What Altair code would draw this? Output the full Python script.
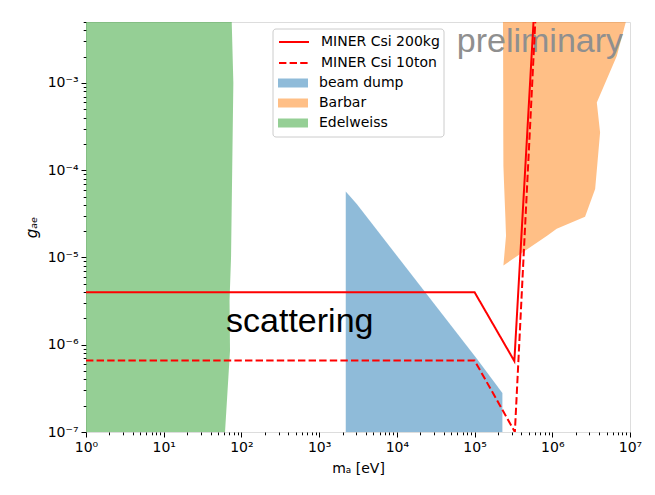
import altair as alt
import pandas as pd

# ---------------- data ----------------
LINE_SERIES = ["MINER Csi 200kg", "MINER Csi 10ton"]
LINE_COLOR = "#ff0000"
LINE_DASHES = [[1, 0], [7.4, 3.2]]
AREA_SERIES = ["beam dump", "Barbar", "Edelweiss"]
AREA_COLORS = ["#1f77b4", "#ff7f0e", "#2ca02c"]

solid_m = [1, 1e5, 3.25e5, 5.8e5]
solid_g = [4.0e-6, 4.0e-6, 6.5e-7, 6.0e-3]

dashed_m = [1, 1e5, 3.3e5, 6.1e5]
dashed_g = [6.6e-7, 6.6e-7, 1.0e-7, 6.0e-3]

beam_m = [2.2e3, 3.05e3, 1.07e5, 2.28e5]
beam_g = [5.7e-5, 4.1e-5, 6.9e-7, 2.8e-7]
beam_floor = 1e-7

edel_g = [1e-7, 8.6e-7, 3.2e-6, 1e-5, 1e-3, 5e-3]
edel_m = [61.5, 71.3, 70.3, 73.5, 78.7, 75]
edel_left = 1

barbar_g = [8.1e-6, 1.78e-5, 2.13e-5, 2.94e-5, 6.1e-5, 1.12e-4, 2.7e-4, 5.96e-4, 2.04e-3, 5e-3]
barbar_m_left = [2.35e5, 2.54e5, 2.52e5, 2.49e5, 2.41e5, 2.35e5, 2.34e5, 2.34e5, 2.33e5, 2.32e5]
barbar_m_right = [2.35e5, 8.57e5, 1.14e6, 2.64e6, 3.56e6, 3.78e6, 4.12e6, 3.74e6, 6.76e6, 8.83e6]

annot_text = ["scattering", "preliminary"]
annot_m = [63.4, 5.9e4]
annot_g = [1.4e-6, 2.25e-3]

X_DOMAIN = [1, 1e7]
Y_DOMAIN = [1e-7, 5e-3]
X_MAJOR = [1e0, 1e1, 1e2, 1e3, 1e4, 1e5, 1e6, 1e7]
X_TICK_LABELS = ["10⁰", "10¹", "10²", "10³", "10⁴", "10⁵", "10⁶", "10⁷"]
Y_MAJOR = [1e-7, 1e-6, 1e-5, 1e-4, 1e-3]
Y_TICK_LABELS = ["10⁻⁷", "10⁻⁶", "10⁻⁵", "10⁻⁴", "10⁻³"]
MINOR_MULT = [2, 3, 4, 5, 6, 7, 8, 9]

# ---------------- ticks ----------------
x_ticks = list(X_MAJOR) + [m * d for d in X_MAJOR[:-1] for m in MINOR_MULT]
y_ticks = list(Y_MAJOR) + [m * d for d in Y_MAJOR[:-1] for m in MINOR_MULT] + [2e-3, 3e-3, 4e-3, 5e-3]

is_major = "abs(log(datum.value)/LN10 - round(log(datum.value)/LN10)) < 0.001"
x_label_expr = f"{is_major} ? {X_TICK_LABELS}[round(log(datum.value)/LN10)] : ''"
y_label_expr = f"{is_major} ? {Y_TICK_LABELS}[round(log(datum.value)/LN10) + 7] : ''"
tick_size = {"condition": {"test": is_major, "value": 5}, "value": 2.8}

FONT = "DejaVu Sans"
FS = 14

x_axis = alt.Axis(values=x_ticks, labelExpr=x_label_expr, tickSize=tick_size,
                  title="mₐ [eV]", grid=False, domain=False, tickColor="black",
                  labelColor="black", labelFont=FONT, labelFontSize=FS,
                  labelFlush=False, labelOverlap=False, labelPadding=3,
                  titleFont=FONT, titleFontSize=FS, titleFontWeight="normal",
                  titleColor="black", titlePadding=7)
y_axis = alt.Axis(values=y_ticks, labelExpr=y_label_expr, tickSize=tick_size,
                  title="gₐₑ", grid=False, domain=False, tickColor="black",
                  labelColor="black", labelFont=FONT, labelFontSize=FS,
                  labelFlush=False, labelOverlap=False, labelPadding=3,
                  titleFont=FONT, titleFontSize=FS + 1, titleFontWeight="normal",
                  titleFontStyle="italic", titleColor="black", titlePadding=8)

xs = alt.Scale(type="log", domain=X_DOMAIN, nice=False)
ys = alt.Scale(type="log", domain=Y_DOMAIN, nice=False)

LEG_X, LEG_Y, ROW = 187, 7, 21
common_leg = dict(title=None, orient="none", padding=4, symbolSize=256, symbolOffset=1,
                  labelOffset=25, rowPadding=5, labelFont=FONT, labelFontSize=FS,
                  labelColor="black")
line_legend = alt.Legend(legendX=LEG_X, legendY=LEG_Y, symbolType="M-1,0H2.75",
                         symbolStrokeColor=LINE_COLOR, symbolStrokeWidth=2,
                         symbolFillColor="transparent", **common_leg)
area_legend = alt.Legend(legendX=LEG_X, legendY=LEG_Y + 2 * ROW,
                         symbolType="M-1,-0.5625H2.75V0.5625H-1Z",
                         symbolOpacity=0.5, symbolStrokeWidth=0, **common_leg)

fill_enc = alt.Fill("series:N", scale=alt.Scale(domain=AREA_SERIES, range=AREA_COLORS),
                    legend=area_legend)

# ---------------- layers ----------------
edel_df = pd.DataFrame({"m": edel_m, "m0": [edel_left] * len(edel_m), "g": edel_g, "series": "Edelweiss"})
edel = alt.Chart(edel_df).mark_area(orient="horizontal", opacity=0.5).encode(
    y=alt.Y("g:Q", scale=ys, axis=y_axis),
    x=alt.X("m:Q", scale=xs, axis=x_axis),
    x2="m0:Q",
    fill=fill_enc,
)

beam_df = pd.DataFrame({"m": beam_m, "g": beam_g, "g0": [beam_floor] * len(beam_m), "series": "beam dump"})
beam = alt.Chart(beam_df).mark_area(opacity=0.5).encode(
    x=alt.X("m:Q", scale=xs, axis=x_axis),
    y=alt.Y("g:Q", scale=ys, axis=y_axis),
    y2="g0:Q",
    fill=fill_enc,
)

barbar_df = pd.DataFrame({"g": barbar_g, "mL": barbar_m_left, "mR": barbar_m_right, "series": "Barbar"})
barbar = alt.Chart(barbar_df).mark_area(orient="horizontal", opacity=0.5, clip=True).encode(
    y=alt.Y("g:Q", scale=ys, axis=y_axis),
    x=alt.X("mL:Q", scale=xs, axis=x_axis),
    x2="mR:Q",
    fill=fill_enc,
)

scat = alt.Chart(pd.DataFrame({"m": [annot_m[0]], "g": [annot_g[0]], "t": [annot_text[0]]})).mark_text(
    align="left", baseline="alphabetic", font="Liberation Sans", fontSize=34, color="black"
).encode(x=alt.X("m:Q", scale=xs, axis=x_axis), y=alt.Y("g:Q", scale=ys, axis=y_axis), text="t:N")

prelim = alt.Chart(pd.DataFrame({"m": [annot_m[1]], "g": [annot_g[1]], "t": [annot_text[1]]})).mark_text(
    align="left", baseline="alphabetic", font="Liberation Sans", fontSize=34, color="#8f8f8f"
).encode(x=alt.X("m:Q", scale=xs, axis=x_axis), y=alt.Y("g:Q", scale=ys, axis=y_axis), text="t:N")

line_rows = []
for i, (m, g) in enumerate(zip(solid_m, solid_g)):
    line_rows.append({"m": m, "g": g, "series": LINE_SERIES[0], "o": i})
for i, (m, g) in enumerate(zip(dashed_m, dashed_g)):
    line_rows.append({"m": m, "g": g, "series": LINE_SERIES[1], "o": i})
lines_df = pd.DataFrame(line_rows)
lines = alt.Chart(lines_df).mark_line(strokeWidth=2, clip=True, color=LINE_COLOR).encode(
    x=alt.X("m:Q", scale=xs, axis=x_axis),
    y=alt.Y("g:Q", scale=ys, axis=y_axis),
    strokeDash=alt.StrokeDash("series:N", scale=alt.Scale(domain=LINE_SERIES, range=LINE_DASHES),
                              legend=line_legend),
    order="o:Q",
)

# legend frame (decoration behind the two stacked legends)
frame = alt.Chart(pd.DataFrame({"a": [0]})).mark_rect(
    fill="white", fillOpacity=0.8, stroke="#cccccc", strokeWidth=1, cornerRadius=3
).encode(x=alt.value(LEG_X), x2=alt.value(LEG_X + 171), y=alt.value(LEG_Y), y2=alt.value(LEG_Y + 108))

chart = alt.layer(edel, beam, barbar, prelim, lines, scat, frame).properties(
    width=544, height=410,
    padding={"left": 78, "top": 14, "right": 17, "bottom": 55},
    autosize=alt.AutoSizeParams(type="none"),
).configure_view(stroke="black", strokeWidth=1).configure(background="white")

chart.save("out.html", embed_options={"renderer": "svg", "actions": False})
